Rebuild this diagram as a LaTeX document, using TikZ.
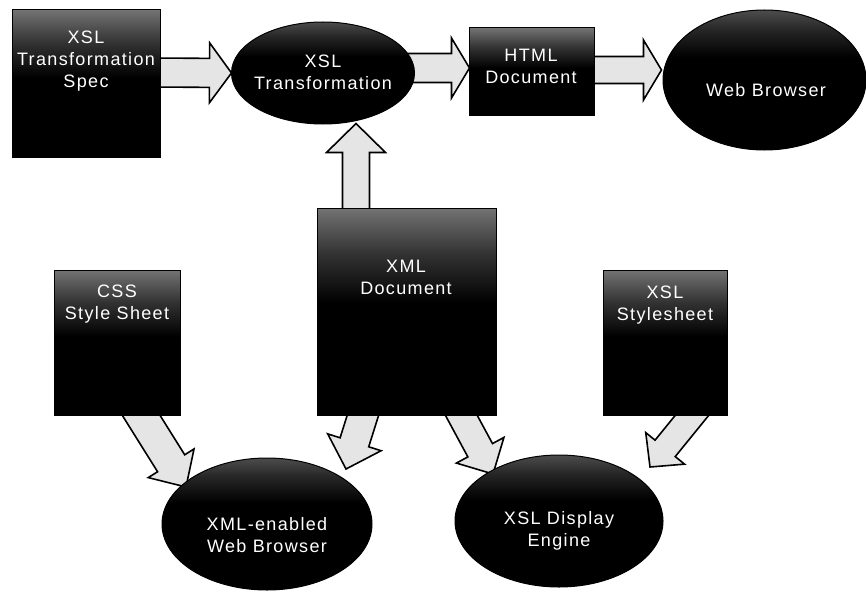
\documentclass[tikz,border=0pt]{standalone}
\usepackage{fontspec}
\setmainfont{Liberation Sans}[LetterSpace=7.5]
\usetikzlibrary{shapes.geometric,calc,backgrounds}
\pgfdeclareverticalshading{boxsh}{100bp}{color(0bp)=(black); color(25bp)=(black); color(52bp)=(black); color(64bp)=(black!80); color(75bp)=(black!55); color(100bp)=(black!55)}
\pgfdeclareverticalshading{ovalsh}{100bp}{color(0bp)=(black); color(25bp)=(black); color(58bp)=(black); color(68bp)=(black!85); color(75bp)=(black!70); color(100bp)=(black!70)}
\newcommand\blockarrow[5]{%
  \coordinate (bac) at ($(#2)!#5!(#1)$);
  \draw[blockarr] ($(#1)!#3!90:(#2)$) -- ($(bac)!#3!90:(#2)$) -- ($(bac)!#4!90:(#2)$) -- (#2)
    -- ($(bac)!#4!-90:(#2)$) -- ($(bac)!#3!-90:(#2)$) -- ($(#1)!#3!-90:(#2)$) -- cycle;}
\begin{document}
\begin{tikzpicture}[x=1pt,y=-1pt,
  box/.style={rectangle, draw=black, line width=1pt, shade, shading=boxsh, inner sep=0pt},
  oval/.style={ellipse, draw=black, line width=1pt, shade, shading=ovalsh, inner sep=0pt},
  txt/.style={text=white, align=center, inner sep=0pt, font=\fontsize{18}{22}\selectfont},
  blockarr/.style={draw=black, line width=1.6pt, fill=black!10, line join=miter}]
\useasboundingbox (0,0) rectangle (866,591);
% boxes and ovals
\node[box, minimum width=148pt, minimum height=147pt] (spec) at (86,83.5) {};
\node[oval, minimum width=183pt, minimum height=102pt] (xsltrans) at (323,73) {};
\node[box, minimum width=125pt, minimum height=87pt] (html) at (531.5,71.5) {};
\node[oval, minimum width=203pt, minimum height=140pt] (web) at (764.5,80) {};
\node[box, minimum width=179pt, minimum height=207pt] (xml) at (406.5,311.5) {};
\node[box, minimum width=126pt, minimum height=145pt] (css) at (117,342.5) {};
\node[box, minimum width=124pt, minimum height=145pt] (xslsheet) at (665,342.5) {};
\node[oval, minimum width=210pt, minimum height=132pt] (xmlbrowser) at (267,524) {};
\node[oval, minimum width=208pt, minimum height=132pt] (display) at (559,521) {};
% texts
\node[txt] (spect) at (86,61) {XSL\\Transformation\\Spec};
\node[txt] (xsltranst) at (323,72) {XSL\\Transformation};
\node[txt] (htmlt) at (531,66) {HTML\\Document};
\node[txt] (webt) at (766,90) {Web Browser};
\node[txt] (xmlt) at (406,277) {XML\\Document};
\node[txt] (csst) at (117,304) {CSS\\Style Sheet};
\node[txt] (xslsheett) at (665,305) {XSL\\Stylesheet};
\node[txt] (xmlbrowsert) at (267,535) {XML-enabled\\Web Browser};
\node[txt] (displayt) at (559,531) {XSL Display\\Engine};
% arrow end points
\coordinate (a1s) at ($(spec.east)+(-10,-11)$);
\coordinate (a1e) at ($(xsltrans.west)+(0.5,0)$);
\coordinate (a2s) at ($(xsltrans.east)+(-15,-5)$);
\coordinate (a2e) at ($(html.west)+(1,-3.5)$);
\coordinate (a3s) at ($(html.east)+(-5,-1.5)$);
\coordinate (a3e) at ($(web.west)+(-1,-10)$);
\coordinate (a4s) at ($(xml.north)+(-50.5,10)$);
\coordinate (a4e) at ($(xsltrans.south)+(33,-1)$);
\coordinate (a5s) at ($(css.south)+(18,-10)$);
\coordinate (a5e) at ($(xmlbrowser.center)+(-81,-37)$);
\coordinate (a6s) at ($(xml.south)+(-40.5,-10)$);
\coordinate (a6e) at ($(xmlbrowser.center)+(79,-55)$);
\coordinate (a7s) at ($(xml.south)+(49.5,-10)$);
\coordinate (a7e) at ($(display.center)+(-66,-47)$);
\coordinate (a8s) at ($(xslsheet.south)+(35,-10)$);
\coordinate (a8e) at ($(display.center)+(91,-54)$);
\begin{pgfonlayer}{background}
\blockarrow{a1s}{a1e}{14.5pt}{30pt}{22pt}
\blockarrow{a2s}{a2e}{14.5pt}{30pt}{18pt}
\blockarrow{a3s}{a3e}{13.5pt}{30pt}{18pt}
\blockarrow{a4s}{a4e}{13.5pt}{29.5pt}{29pt}
\blockarrow{a5s}{a5e}{16pt}{27pt}{28pt}
\blockarrow{a6s}{a6e}{15pt}{28pt}{28pt}
\blockarrow{a7s}{a7e}{14pt}{27pt}{27pt}
\blockarrow{a8s}{a8e}{13pt}{25pt}{24pt}
\end{pgfonlayer}
\end{tikzpicture}
\end{document}
